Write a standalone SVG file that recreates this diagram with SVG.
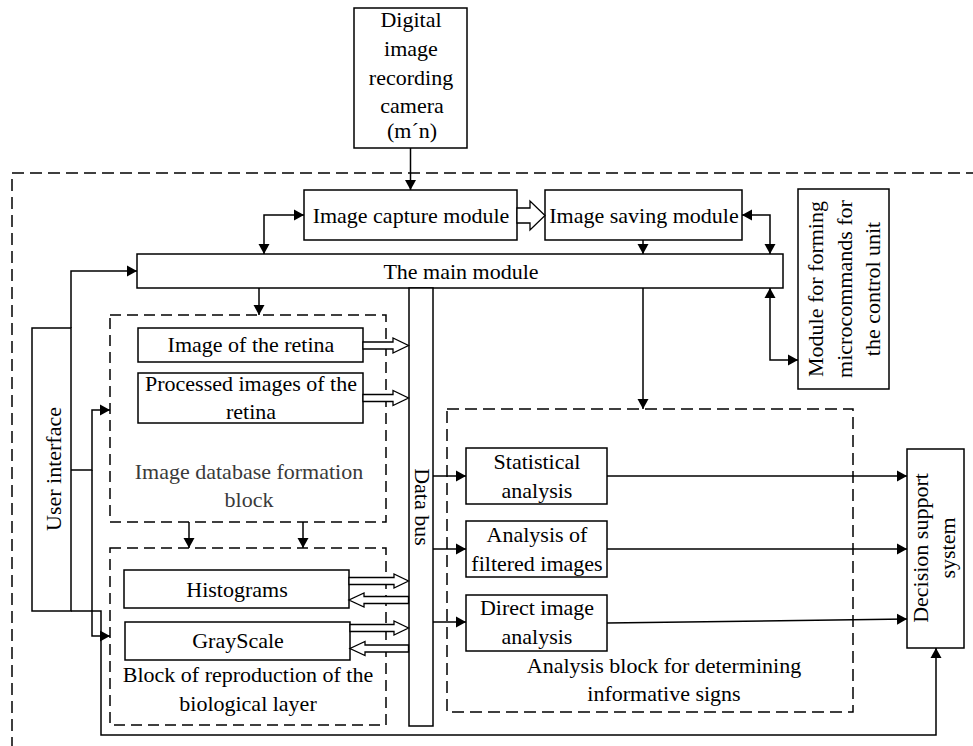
<svg xmlns="http://www.w3.org/2000/svg" width="973" height="746" viewBox="0 0 973 746">
<style>
.box{fill:#fff;stroke:#000;stroke-width:1.5}
.dash{fill:none;stroke:#000;stroke-width:1.5;stroke-dasharray:12 6}
.dash2{fill:none;stroke:#000;stroke-width:1.5;stroke-dasharray:11 6}
.t{font-family:"Liberation Serif","Times New Roman",serif;font-size:22px;fill:#000;text-anchor:middle}
.g{fill:#3a3a3a}
.ln{fill:none;stroke:#000;stroke-width:1.5}
.arr{marker-end:url(#ah)}
.bi{marker-start:url(#ah);marker-end:url(#ah)}
.hol{fill:#fff;stroke:#000;stroke-width:1.3}
</style>
<defs>
<marker id="ah" markerUnits="userSpaceOnUse" markerWidth="11" markerHeight="12" refX="10" refY="5.5" orient="auto-start-reverse" viewBox="0 0 11 11">
<path d="M0,0 L10,5.5 L0,11 z" fill="#000"/>
</marker>
</defs>
<rect width="973" height="746" fill="#fff"/>
<rect class="dash" x="12" y="173" width="1000" height="620"/>

<g id="camera"><rect class="box" x="354" y="8" width="113" height="140"/>
<text class="t" x="411" y="27">Digital</text><text class="t" x="411" y="56">image</text><text class="t" x="411" y="85">recording</text><text class="t" x="412" y="113">camera</text><text class="t" x="412" y="138">(m´n)</text></g>

<g id="capture"><rect class="box" x="304" y="190" width="213" height="50"/><text class="t" x="411" y="223">Image capture module</text></g>
<g id="saving"><rect class="box" x="545" y="190" width="197" height="50"/><text class="t" x="644" y="223">Image saving module</text></g>
<g id="main"><rect class="box" x="137" y="254" width="646" height="34"/><text class="t" x="461" y="279">The main module</text></g>
<g id="forming"><rect class="box" x="798" y="189" width="91" height="200"/>
<text class="t" transform="translate(823,289) rotate(-90)">Module for forming</text>
<text class="t" transform="translate(852,289) rotate(-90)">microcommands for</text>
<text class="t" transform="translate(880,289) rotate(-90)">the control unit</text></g>
<g id="ui"><rect class="box" x="32" y="328" width="39" height="283"/><text class="t" transform="translate(61,469) rotate(-90)">User interface</text></g>

<g id="imgdb"><rect class="dash2" x="110" y="315" width="276" height="207"/>
<text class="t g" x="249" y="479">Image database formation</text><text class="t g" x="249" y="507">block</text></g>
<g id="retina"><rect class="box" x="138" y="328" width="225" height="34"/><text class="t" x="251" y="352">Image of the retina</text></g>
<g id="processed"><rect class="box" x="138" y="373" width="225" height="50"/><text class="t" x="251" y="391">Processed images of the</text><text class="t" x="251" y="419">retina</text></g>

<g id="repro"><rect class="dash2" x="110" y="548" width="276" height="177"/>
<text class="t" x="248" y="682">Block of reproduction of the</text><text class="t" x="248" y="711">biological layer</text></g>
<g id="histograms"><rect class="box" x="124" y="570" width="225" height="38"/><text class="t" x="237" y="597">Histograms</text></g>
<g id="grayscale"><rect class="box" x="125" y="622" width="225" height="38"/><text class="t" x="238" y="648">GrayScale</text></g>

<g id="databus"><rect class="box" x="409" y="288" width="24" height="438"/><text class="t" transform="translate(415,507) rotate(90)">Data bus</text></g>

<g id="analysis"><rect class="dash" x="447" y="409" width="406" height="303"/>
<text class="t" x="664" y="673">Analysis block for determining</text><text class="t" x="664" y="701">informative signs</text></g>
<g id="statistical"><rect class="box" x="466" y="448" width="141" height="56"/><text class="t" x="537" y="469">Statistical</text><text class="t" x="537" y="498">analysis</text></g>
<g id="filtered"><rect class="box" x="466" y="521" width="141" height="56"/><text class="t" x="537" y="542">Analysis of</text><text class="t" x="537" y="571">filtered images</text></g>
<g id="direct"><rect class="box" x="466" y="595" width="141" height="56"/><text class="t" x="537" y="615">Direct image</text><text class="t" x="537" y="644">analysis</text></g>

<g id="decision"><rect class="box" x="907" y="449" width="57" height="199"/>
<text class="t" transform="translate(928,548) rotate(-90)">Decision support</text><text class="t" transform="translate(955,548) rotate(-90)">system</text></g>

<g id="connectors">
<path class="ln arr" d="M410.5,148 L410.5,190"/>
<path class="ln bi" d="M264,254 L264,215 L304,215"/>
<path class="ln bi" d="M742,215 L770,215 L770,254"/>
<path class="ln arr" d="M643,240 L643,254"/>
<path class="ln bi" d="M770,288 L770,360 L798,360"/>
<path class="ln arr" d="M643,288 L643,409"/>
<path class="ln arr" d="M259,288 L259,315"/>
<path class="ln arr" d="M71,328 L71,271 L137,271"/>
<path class="ln arr" d="M71,470 L92,470 L92,410 L110,410"/>
<path class="ln arr" d="M92,470 L92,636 L110,636"/>
<path class="ln arr" d="M71,611 L101,611 L101,735 L936,735 L936,648"/>
<path class="ln arr" d="M189,522 L189,548"/>
<path class="ln arr" d="M303,522 L303,548"/>
<path class="ln arr" d="M433,476 L466,476"/>
<path class="ln arr" d="M433,549 L466,549"/>
<path class="ln arr" d="M433,622 L466,622"/>
<path class="ln arr" d="M607,476 L907,476"/>
<path class="ln arr" d="M607,549 L907,549"/>
<path class="ln arr" d="M607,623 L907,619"/>
<polygon class="hol" points="517,208 530,208 530,201 545,215.5 530,230 530,223 517,223"/>
<polygon class="hol" points="363,342 393,342 393,338 408.5,345.5 393,353 393,349 363,349"/>
<polygon class="hol" points="363,394.5 393,394.5 393,390.5 408.5,398 393,405.5 393,401.5 363,401.5"/>
<polygon class="hol" points="349,577.5 394,577.5 394,574 408.5,581 394,588 394,584.5 349,584.5"/>
<polygon class="hol" points="408.5,596.5 364,596.5 364,593 349,600 364,607 364,603.5 408.5,603.5"/>
<polygon class="hol" points="350,624.5 394,624.5 394,621 408.5,628 394,635 394,631.5 350,631.5"/>
<polygon class="hol" points="408.5,645 365,645 365,641.5 350,648.5 365,655.5 365,652 408.5,652"/>
</g>
</svg>
